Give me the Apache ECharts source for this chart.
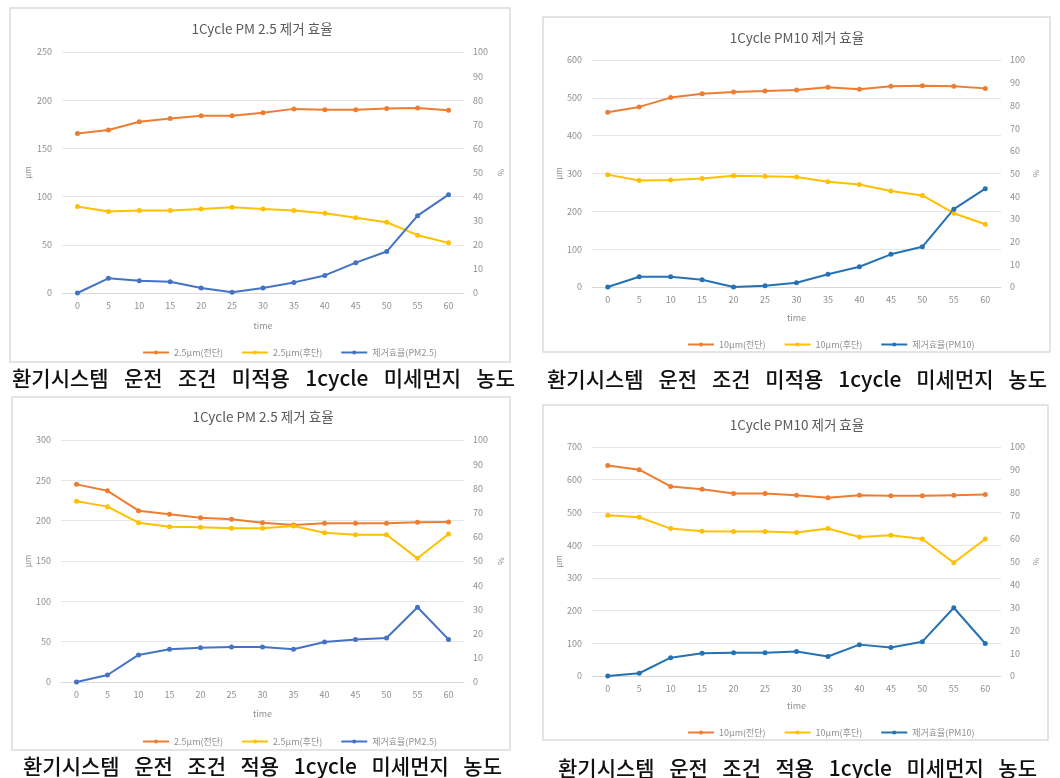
<!DOCTYPE html>
<html>
<head>
<meta charset="utf-8">
<script src="https://cdn.jsdelivr.net/npm/echarts@6/dist/echarts.min.js"></script>
<style>
  html, body { margin: 0; padding: 0; background: #fff; }
  #wrap { position: relative; width: 1060px; height: 778px; }
  #chart { position: absolute; left: 0; top: 0; width: 1060px; height: 778px; }
  .cap { position: absolute; font-family: 'Noto Sans CJK KR', sans-serif; font-size: 21px; font-weight: 500; color: #111;
         text-align: justify; text-align-last: justify; white-space: nowrap; line-height: 24px; }
</style>
</head>
<body>
<div id="wrap">
  <div id="chart"></div>
  <div class="cap" style="left:12px; top:365px; width:503px;">환기시스템 운전 조건 미적용 1cycle 미세먼지 농도</div>
  <div class="cap" style="left:547px; top:366px; width:500px;">환기시스템 운전 조건 미적용 1cycle 미세먼지 농도</div>
  <div class="cap" style="left:23px; top:753px; width:479px;">환기시스템 운전 조건 적용 1cycle 미세먼지 농도</div>
  <div class="cap" style="left:558px; top:755px; width:479px;">환기시스템 운전 조건 적용 1cycle 미세먼지 농도</div>
</div>
<script>
// ---- data ----
const times = ['0','5','10','15','20','25','30','35','40','45','50','55','60'];

const titles = ['1Cycle PM 2.5 제거 효율', '1Cycle PM10 제거 효율', '1Cycle PM 2.5 제거 효율', '1Cycle PM10 제거 효율'];
const names25 = ['2.5μm(전단)', '2.5μm(후단)', '제거효율(PM2.5)'];
const names10 = ['10μm(전단)', '10μm(후단)', '제거효율(PM10)'];

const p1Front = [165.5,169,177.6,181,183.8,183.8,187,191,190,190,191.4,192,189.7];
const p1Rear  = [89.7,84.5,85.5,85.5,87.2,89,87.2,85.5,82.8,78,73.4,60,52];
const p1Eff   = [0,6.1,5.1,4.7,2.1,0.3,2.1,4.4,7.3,12.6,17.2,32.1,40.8];

const p2Front = [462,476,500.6,511,515.5,518,521,528,522.6,530.5,532,530.5,525];
const p2Rear  = [297,281.5,283,287,294,293,291,278,271,254,242,195,166];
const p2Eff   = [0,4.5,4.5,3.2,0,0.6,1.9,5.6,8.9,14.4,17.7,34.3,43.3];

const p3Front = [245,237,212.4,207.9,203.7,201.7,197.5,194.6,196.7,196.7,196.7,197.9,198.3];
const p3Rear  = [224,217.4,197.5,192.6,191.7,190.5,190.5,193.4,185,182.6,182.6,153.3,183.5];
const p3Eff   = [0,2.9,11.2,13.5,14.2,14.5,14.5,13.5,16.5,17.6,18.2,30.9,17.6];

const p4Front = [643.8,630.5,579.4,571.2,558,558,552.8,544.7,552.8,550.8,550.8,552.8,554.9];
const p4Rear  = [491.5,485.4,450.6,442.5,441.4,441.4,438.4,450.6,425,430.2,419,346.4,419];
const p4Eff   = [0,1.2,8,9.9,10.2,10.2,10.7,8.5,13.7,12.4,15,29.8,14.2];

const leftMax = [250, 600, 300, 700];
const leftInterval = [50, 100, 50, 100];

// ---- layout ----
const FONT = 'Noto Sans CJK KR';
const panels = [
  {box:[10,8,500,354],  grid:{left:62, top:52, width:402, height:241}, title:[262,29], legend:[137,343], nameGapY:30, nameGapR:33, nameGapX:28,
   data:[p1Front,p1Rear,p1Eff], names:names25, blue:'#4472C4'},
  {box:[543,17,507,335], grid:{left:592, top:60, width:409, height:227}, title:[797,38], legend:[682,335], nameGapY:25, nameGapR:31, nameGapX:26,
   data:[p2Front,p2Rear,p2Eff], names:names10, blue:'#2472B4'},
  {box:[12,397,498,353], grid:{left:61, top:440, width:403, height:242}, title:[263,417], legend:[137,732], nameGapY:29, nameGapR:33, nameGapX:27,
   data:[p3Front,p3Rear,p3Eff], names:names25, blue:'#4472C4'},
  {box:[543,405,505,335], grid:{left:592, top:447, width:409, height:229}, title:[797,425], legend:[682,723], nameGapY:25, nameGapR:31, nameGapX:25,
   data:[p4Front,p4Rear,p4Eff], names:names10, blue:'#2472B4'}
];

const ORANGE = '#ED7D31', YELLOW = '#FFC000';
const labelStyle = {color:'#8f8f8f', fontSize:9, fontFamily:FONT};

const grids = [], xAxes = [], yAxes = [], series = [], legends = [], graphics = [];

panels.forEach((p, i) => {
  graphics.push({type:'rect', z:-10, shape:{x:p.box[0], y:p.box[1], width:p.box[2], height:p.box[3]},
    style:{fill:'#ffffff', stroke:'#dcdcdc', lineWidth:1.5}});
  graphics.push({type:'text', x:p.title[0], y:p.title[1],
    style:{text:titles[i], fill:'#5a5a5a', font:'13.5px "' + FONT + '"', textAlign:'center', textVerticalAlign:'middle'}});

  grids.push(Object.assign({containLabel:false}, p.grid));
  xAxes.push({type:'category', gridIndex:i, data:times, boundaryGap:true,
    name:'time', nameLocation:'middle', nameGap:p.nameGapX, nameTextStyle:{color:'#8f8f8f', fontSize:9, fontFamily:FONT},
    axisLine:{lineStyle:{color:'#d9d9d9'}}, axisTick:{show:false},
    axisLabel:Object.assign({margin:8, interval:0}, labelStyle)});
  yAxes.push({type:'value', gridIndex:i, position:'left', min:0, max:leftMax[i], interval:leftInterval[i],
    name:'μm', nameLocation:'middle', nameGap:p.nameGapY, nameTextStyle:{color:'#8f8f8f', fontSize:8, fontFamily:FONT},
    axisLine:{show:false}, axisTick:{show:false},
    axisLabel:Object.assign({margin:10}, labelStyle),
    splitLine:{lineStyle:{color:'#e6e6e6'}}});
  yAxes.push({type:'value', gridIndex:i, position:'right', min:0, max:100, interval:10,
    name:'%', nameLocation:'middle', nameGap:p.nameGapR, nameTextStyle:{color:'#8f8f8f', fontSize:8, fontFamily:FONT},
    axisLine:{show:false}, axisTick:{show:false},
    axisLabel:Object.assign({margin:9}, labelStyle),
    splitLine:{show:false}});

  const colors = [ORANGE, YELLOW, p.blue];
  p.data.forEach((d, k) => {
    series.push({type:'line', name:p.names[k], xAxisIndex:i, yAxisIndex: k === 2 ? 2*i+1 : 2*i,
      data:d, symbol:'circle', symbolSize:5, showSymbol:true,
      lineStyle:{color:colors[k], width:2}, itemStyle:{color:colors[k]}, emphasis:{disabled:true}});
  });

  legends.push({left:p.legend[0], top:p.legend[1], orient:'horizontal', itemGap:18, itemWidth:26, itemHeight:5,
    data:p.names.map((n, k) => ({name:n, itemStyle:{color:colors[k]}, lineStyle:{color:colors[k], width:2}})),
    textStyle:{color:'#8f8f8f', fontSize:9, fontFamily:FONT}, selectedMode:false});
});

const chart = echarts.init(document.getElementById('chart'), null, {renderer:'canvas'});
chart.setOption({
  animation:false,
  backgroundColor:'#ffffff',
  textStyle:{fontFamily:FONT},
  grid:grids, xAxis:xAxes, yAxis:yAxes, series:series, legend:legends, graphic:graphics
});
</script>
</body>
</html>
